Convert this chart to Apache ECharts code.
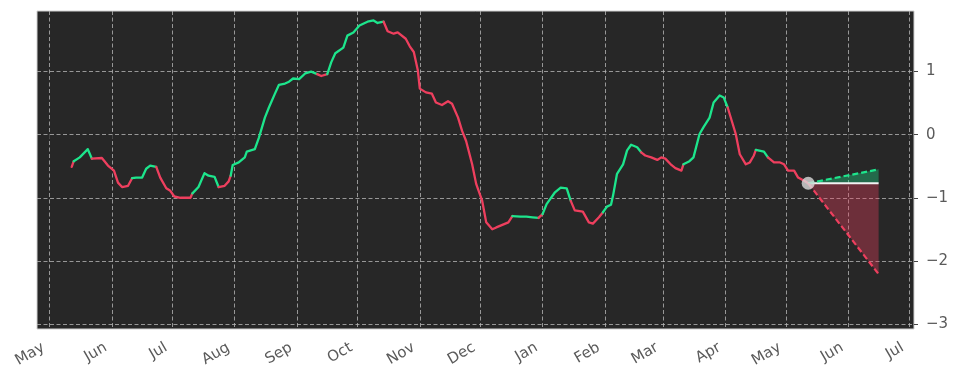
<!DOCTYPE html>
<html><head><meta charset="utf-8">
<script src="https://cdn.jsdelivr.net/npm/echarts@6/dist/echarts.min.js"></script>
<style>html,body{margin:0;padding:0;background:#fff}#c{width:958px;height:381px}</style>
</head><body><div id="c"></div>
<script>
const dates = [
'2023-05-12','2023-05-13','2023-05-16','2023-05-20','2023-05-22','2023-05-27','2023-05-30','2023-06-02','2023-06-04','2023-06-06',
'2023-06-09','2023-06-11','2023-06-13','2023-06-16','2023-06-18','2023-06-20','2023-06-23','2023-06-25','2023-06-28','2023-06-30',
'2023-07-02','2023-07-05','2023-07-10','2023-07-11','2023-07-14','2023-07-17','2023-07-19','2023-07-22','2023-07-24','2023-07-27',
'2023-07-29','2023-07-30','2023-07-31','2023-08-03','2023-08-06','2023-08-07','2023-08-11','2023-08-13','2023-08-16','2023-08-18',
'2023-08-21','2023-08-23','2023-08-26','2023-08-28','2023-08-30','2023-09-02','2023-09-05','2023-09-08','2023-09-11','2023-09-13',
'2023-09-16','2023-09-18','2023-09-20','2023-09-24','2023-09-26','2023-09-29','2023-10-02','2023-10-06','2023-10-09','2023-10-11',
'2023-10-14','2023-10-16','2023-10-19','2023-10-21','2023-10-25','2023-10-27','2023-10-29','2023-10-31','2023-11-01','2023-11-04',
'2023-11-07','2023-11-09','2023-11-12','2023-11-15','2023-11-17','2023-11-20','2023-11-22','2023-11-24','2023-11-27','2023-11-29',
'2023-12-02','2023-12-04','2023-12-07','2023-12-09','2023-12-12','2023-12-15','2023-12-17','2023-12-21','2023-12-24','2023-12-27',
'2023-12-30','2024-01-01','2024-01-03','2024-01-07','2024-01-10','2024-01-13','2024-01-15','2024-01-17','2024-01-21','2024-01-24',
'2024-01-26','2024-01-29','2024-01-31','2024-02-02','2024-02-04','2024-02-05','2024-02-07','2024-02-10','2024-02-12','2024-02-14',
'2024-02-17','2024-02-19','2024-02-21','2024-02-24','2024-02-27','2024-02-29','2024-03-02','2024-03-05','2024-03-07','2024-03-10',
'2024-03-11','2024-03-14','2024-03-16','2024-03-19','2024-03-21','2024-03-24','2024-03-26','2024-03-29','2024-03-31','2024-04-02',
'2024-04-04','2024-04-06','2024-04-08','2024-04-11','2024-04-13','2024-04-15','2024-04-16','2024-04-20','2024-04-22','2024-04-25',
'2024-04-28','2024-04-30','2024-05-02','2024-05-05','2024-05-07','2024-05-10','2024-05-12'
];
const values = [
-0.51,-0.42,-0.36,-0.23,-0.38,-0.37,-0.49,-0.57,-0.76,-0.83,
-0.81,-0.69,-0.68,-0.68,-0.54,-0.49,-0.51,-0.68,-0.85,-0.89,
-0.98,-1.00,-1.00,-0.93,-0.83,-0.61,-0.65,-0.67,-0.83,-0.81,
-0.74,-0.65,-0.48,-0.44,-0.36,-0.27,-0.23,-0.05,0.27,0.43,
0.65,0.79,0.81,0.84,0.89,0.88,0.97,1.00,0.96,0.93,
0.96,1.15,1.29,1.38,1.57,1.62,1.73,1.79,1.81,1.77,
1.79,1.64,1.60,1.62,1.52,1.40,1.31,1.02,0.73,0.67,
0.65,0.51,0.47,0.53,0.49,0.27,0.06,-0.10,-0.47,-0.78,
-1.05,-1.39,-1.50,-1.47,-1.43,-1.39,-1.29,-1.30,-1.30,-1.31,
-1.32,-1.26,-1.10,-0.92,-0.84,-0.85,-1.05,-1.20,-1.22,-1.39,
-1.41,-1.31,-1.23,-1.14,-1.11,-0.97,-0.62,-0.47,-0.25,-0.16,
-0.20,-0.28,-0.33,-0.36,-0.40,-0.36,-0.38,-0.48,-0.53,-0.57,
-0.47,-0.42,-0.36,0.01,0.12,0.27,0.51,0.62,0.59,0.43,
0.22,0.01,-0.31,-0.47,-0.44,-0.33,-0.24,-0.27,-0.36,-0.44,
-0.44,-0.47,-0.57,-0.57,-0.68,-0.73,-0.77
];
// 1 = rising (green) segment, -1 = falling (red) segment, per starting point
const trend = [
-1,
1,1,1,
-1,-1,-1,-1,-1,-1,-1,
1,1,1,1,1,
-1,-1,-1,-1,-1,-1,-1,
1,1,1,1,1,
-1,-1,-1,
1,1,1,1,1,1,1,1,1,1,1,1,1,1,1,1,1,
-1,-1,
1,1,1,1,1,1,1,1,1,1,
-1,-1,-1,-1,-1,-1,-1,-1,-1,-1,-1,-1,-1,-1,-1,-1,-1,-1,-1,-1,-1,-1,-1,-1,-1,-1,
1,1,1,1,
-1,
1,1,1,1,1,
-1,-1,-1,-1,-1,-1,
1,1,1,1,1,1,1,1,1,
-1,-1,-1,-1,-1,-1,-1,-1,-1,
1,1,1,1,1,1,1,1,1,
-1,-1,-1,-1,-1,-1,-1,
1,1,
-1,-1,-1,-1,-1,-1,-1,-1,-1
];
const forecastEnd = '2024-06-16';
const forecastMean = -0.77;
const forecastUpper = -0.55;
const forecastLower = -2.21;
const monthTicks = ['2023-05-01','2023-06-01','2023-07-01','2023-08-01','2023-09-01','2023-10-01','2023-11-01','2023-12-01',
  '2024-01-01','2024-02-01','2024-03-01','2024-04-01','2024-05-01','2024-06-01','2024-07-01'];
const monthNames = ['Jan','Feb','Mar','Apr','May','Jun','Jul','Aug','Sep','Oct','Nov','Dec'];
const yTicks = [-3,-2,-1,0,1];

const GREEN = '#1de58c', RED = '#ee3f5e';
const ts = s => echarts.number.parseDate(s).getTime();
const labelColor = '#5a5a5a';
const font = 'DejaVu Sans';

const series = [];
let start = 0;
for (let i = 1; i < dates.length; i++) {
  if (trend[i] !== trend[start] || i === dates.length - 1) {
    const data = [];
    for (let k = start; k <= i; k++) data.push([ts(dates[k]), values[k]]);
    series.push({type:'line', data, showSymbol:false, symbol:'none', z:3,
      lineStyle:{color: trend[start] > 0 ? GREEN : RED, width:2.3, join:'round', cap:'round'}, silent:true});
    start = i;
  }
}
const lastT = ts(dates[dates.length-1]);
const endT = ts(forecastEnd);
series.push({
  type:'custom', z:1, silent:true,
  data:[[endT, forecastUpper],[endT, forecastLower]],
  renderItem(params, api){
    const p0 = api.coord([lastT, forecastMean]);
    const p1 = api.coord([api.value(0), forecastMean]);
    const p2 = api.coord([api.value(0), api.value(1)]);
    const up = api.value(1) > forecastMean;
    return {type:'polygon', shape:{points:[p0,p1,p2]},
      style:{fill: up ? 'rgba(30,232,142,0.35)' : 'rgba(240,64,94,0.35)'}};
  }
});
series.push({type:'line', z:4, symbol:'none', silent:true,
  data:[[lastT, forecastMean],[endT, forecastMean]], lineStyle:{color:'#f2f2f2', width:2}});
series.push({type:'line', z:4, symbol:'none', silent:true,
  data:[[lastT, forecastMean],[endT, forecastUpper]], lineStyle:{color:GREEN, width:2.2, type:[6,3]}});
series.push({type:'line', z:4, symbol:'none', silent:true,
  data:[[lastT, forecastMean],[endT, forecastLower]], lineStyle:{color:RED, width:2.2, type:[6,3]}});
series.push({type:'scatter', z:6, silent:true, symbolSize:13,
  data:[[lastT, values[values.length-1]]], itemStyle:{color:'#dcdcdc'}});

const gridLine = {show:true, lineStyle:{color:'#b4b4b4', type:[4,2.5], width:0.8}};
const chart = echarts.init(document.getElementById('c'), null, {renderer:'canvas'});
chart.setOption({
  animation:false,
  backgroundColor:'#ffffff',
  grid:{left:37, right:44, top:11, bottom:52, show:true, backgroundColor:'#272727', borderColor:'#d0d0d0', borderWidth:1},
  xAxis:{
    type:'value', min: ts('2023-04-24 18:00'), max: ts('2024-07-03 14:00'),
    axisLine:{show:false},
    axisTick:{show:true, length:4, lineStyle:{color:'#444'}, customValues: monthTicks.map(ts)},
    axisLabel:{customValues: monthTicks.map(ts), rotate:30, margin:14, padding:[0,7,0,0],
      formatter: v => monthNames[new Date(v).getMonth()],
      color:labelColor, fontSize:15, fontFamily:font},
    splitLine: gridLine
  },
  yAxis:{
    type:'value', position:'right', min:-3.08, max:1.96,
    axisLine:{show:false},
    axisTick:{show:true, length:4, lineStyle:{color:'#444'}, customValues: yTicks},
    axisLabel:{customValues: yTicks, margin:12, color:labelColor, fontSize:15, fontFamily:font,
      formatter: v => String(v).replace('-', '\u2212')},
    splitLine: gridLine
  },
  series
});
</script></body></html>
